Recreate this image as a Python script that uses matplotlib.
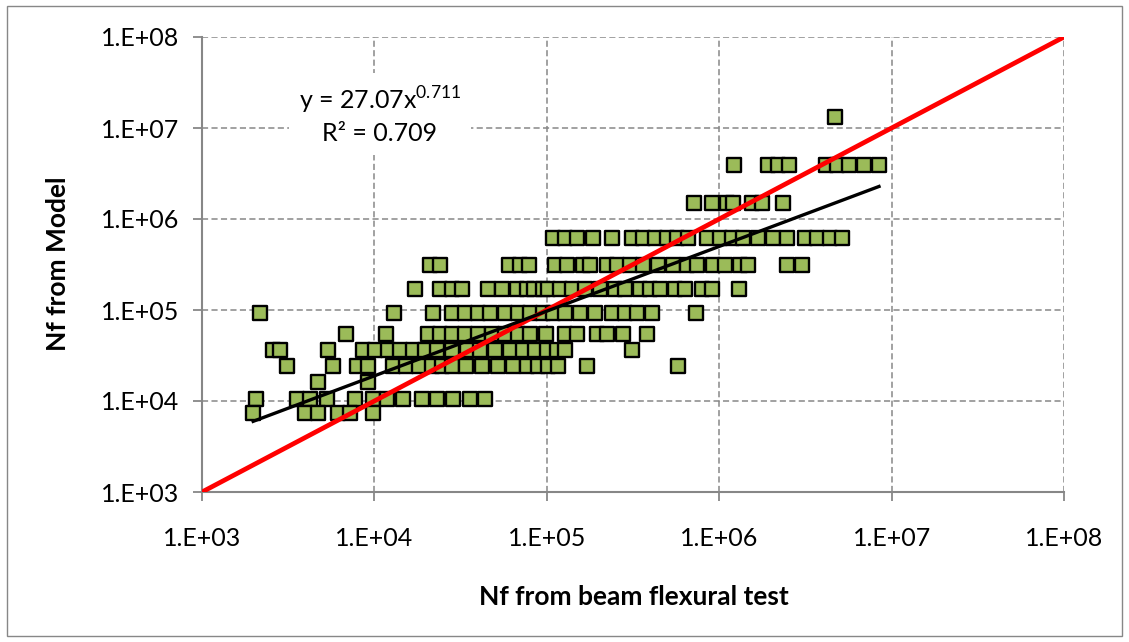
import numpy as np
import matplotlib
matplotlib.use("Agg")
import matplotlib.pyplot as plt
from matplotlib.ticker import FixedLocator, FixedFormatter, NullLocator
from matplotlib.patches import Rectangle

plt.rcParams['font.family'] = ['Lato', 'DejaVu Sans']

# Model-predicted fatigue life levels (y) and the beam-test lives (x) at each level
level_1_3e7 = 1.33e7
x_1_3e7 = [4.7e6]

level_3_9e6 = 3.9e6
x_3_9e6 = [1.22e6, 1.92e6, 2.19e6, 2.54e6, 4.16e6, 4.82e6, 5.66e6, 6.92e6, 8.45e6]

level_1_5e6 = 1.5e6
x_1_5e6 = [7.14e5, 9.08e5, 1.11e6, 1.20e6, 1.55e6, 1.77e6, 2.34e6]

level_6_2e5 = 6.2e5
x_6_2e5 = [1.09e5, 1.27e5, 1.50e5, 1.85e5, 2.39e5, 3.12e5, 3.62e5, 4.24e5, 4.98e5,
           5.69e5, 6.59e5, 8.49e5, 1.01e6, 1.19e6, 1.37e6, 1.68e6, 2.05e6, 2.47e6,
           3.14e6, 3.70e6, 4.39e6, 5.16e6]

level_3_1e5 = 3.1e5
x_3_1e5 = [2.10e4, 2.40e4, 6.04e4, 6.99e4, 7.89e4, 1.12e5, 1.31e5, 1.62e5, 1.78e5,
           2.23e5, 2.55e5, 3.04e5, 3.62e5, 4.41e5, 5.39e5, 6.50e5, 7.43e5, 9.19e5,
           1.08e6, 1.32e6, 1.47e6, 2.47e6, 3.02e6]

level_1_7e5 = 1.7e5
x_1_7e5 = [1.72e4, 2.40e4, 2.82e4, 3.22e4, 4.56e4, 5.50e4, 6.72e4, 7.67e4, 8.43e4,
           9.5e4, 1.02e5, 1.19e5, 1.40e5, 1.67e5, 2.04e5, 2.49e5, 2.84e5, 3.47e5,
           3.97e5, 4.53e5, 5.54e5, 6.33e5, 7.95e5, 9.08e5, 1.30e6]

level_9_2e4 = 9.2e4
x_9_2e4 = [2.17e3, 1.30e4, 2.19e4, 2.82e4, 3.35e4, 3.99e4, 4.68e4, 5.72e4, 6.80e4,
           7.99e4, 9.5e4, 1.09e5, 1.27e5, 1.56e5, 1.90e5, 2.39e5, 2.84e5, 3.33e5,
           4.07e5, 7.33e5]

level_5_5e4 = 5.5e4
x_5_5e4 = [6.83e3, 1.17e4, 2.04e4, 2.40e4, 2.82e4, 3.35e4, 3.99e4, 4.81e4, 5.72e4,
           6.80e4, 7.99e4, 9.9e4, 1.27e5, 1.50e5, 1.95e5, 2.23e5, 2.77e5, 3.81e5]

level_3_6e4 = 3.6e4
x_3_6e4 = [2.58e3, 2.83e3, 5.38e3, 8.58e3, 1.01e4, 1.20e4, 1.41e4, 1.67e4, 1.97e4,
           2.31e4, 2.82e4, 3.44e4, 4.10e4, 5.0e4, 6.12e4, 7.28e4, 8.55e4, 1.0e5,
           1.15e5, 1.27e5, 3.12e5]

level_2_4e4 = 2.4e4
x_2_4e4 = [3.11e3, 5.75e3, 7.93e3, 9.17e3, 1.28e4, 1.53e4, 1.81e4, 2.16e4, 2.47e4,
           2.82e4, 3.39e4, 4.21e4, 5.21e4, 6.36e4, 7.67e4, 8.89e4, 1.02e5, 1.16e5,
           1.71e5, 5.77e5]

level_1_6e4 = 1.6e4
x_1_6e4 = [4.70e3, 9.17e3]

level_1_04e4 = 1.04e4
x_1_04e4 = [2.06e3, 3.56e3, 4.23e3, 5.31e3, 7.70e3, 9.8e3, 1.18e4, 1.46e4, 1.89e4,
            2.31e4, 2.86e4, 3.59e4, 4.38e4]

level_7_3e3 = 7.3e3
x_7_3e3 = [1.98e3, 3.96e3, 4.70e3, 6.14e3, 7.22e3, 9.8e3]

# Power-law fit reported on the chart
fit_coef = 27.07
fit_exp = 0.711
fit_r2 = 0.709

tick_values = [1e3, 1e4, 1e5, 1e6, 1e7, 1e8]
tick_labels = ['1.E+03', '1.E+04', '1.E+05', '1.E+06', '1.E+07', '1.E+08']

rows = [
    (level_1_3e7, x_1_3e7), (level_3_9e6, x_3_9e6), (level_1_5e6, x_1_5e6),
    (level_6_2e5, x_6_2e5), (level_3_1e5, x_3_1e5), (level_1_7e5, x_1_7e5),
    (level_9_2e4, x_9_2e4), (level_5_5e4, x_5_5e4), (level_3_6e4, x_3_6e4),
    (level_2_4e4, x_2_4e4), (level_1_6e4, x_1_6e4), (level_1_04e4, x_1_04e4),
    (level_7_3e3, x_7_3e3),
]
x_beam = np.concatenate([np.asarray(xs, dtype=float) for _, xs in rows])
y_model = np.concatenate([np.full(len(xs), lvl) for lvl, xs in rows])

W, H = 1129, 642
fig = plt.figure(figsize=(W / 100, H / 100), dpi=100)
fig.patch.set_facecolor('white')

# outer chart border
fig.patches.append(Rectangle((7 / W, 1 - 636 / H), (1122 - 7) / W, (636 - 6) / H,
                             transform=fig.transFigure, fill=False,
                             edgecolor='#878787', linewidth=1.0))

ax = fig.add_axes([202 / W, 1 - 492 / H, (1064 - 202) / W, (492 - 37) / H])
ax.set_xscale('log')
ax.set_yscale('log')
ax.set_xlim(1e3, 1e8)
ax.set_ylim(1e3, 1e8)

grid_col = '#878787'
for v in tick_values[1:]:
    ax.axvline(v, color=grid_col, linestyle=(0, (4, 2.2)), linewidth=1.1, zorder=1)
    ax.axhline(v, color=grid_col, linestyle=(0, (4, 2.2)), linewidth=1.1, zorder=1)

ax.scatter(x_beam, y_model, marker='s', s=10.2 ** 2, facecolor='#9BBB59',
           edgecolor='black', linewidth=1.7, zorder=3, clip_on=False)

# line of equality
ax.plot(tick_values, tick_values, color='#FF0000', linewidth=3.4, zorder=4,
        solid_capstyle='butt')

# power trendline across the range of the data
xf = np.logspace(np.log10(x_beam.min()), np.log10(x_beam.max()), 200)
ax.plot(xf, fit_coef * xf ** fit_exp, color='black', linewidth=2.4, zorder=5)

for side in ['top', 'right']:
    ax.spines[side].set_visible(False)
for side in ['left', 'bottom']:
    ax.spines[side].set_color(grid_col)
    ax.spines[side].set_linewidth(1.5)
    ax.spines[side].set_zorder(2)

ax.xaxis.set_major_locator(FixedLocator(tick_values))
ax.xaxis.set_major_formatter(FixedFormatter(tick_labels))
ax.yaxis.set_major_locator(FixedLocator(tick_values))
ax.yaxis.set_major_formatter(FixedFormatter(tick_labels))
ax.xaxis.set_minor_locator(NullLocator())
ax.yaxis.set_minor_locator(NullLocator())
ax.tick_params(axis='both', direction='out', length=6.5, width=1.3, color=grid_col,
               labelsize=18, labelcolor='black')
ax.tick_params(axis='x', pad=19)
ax.tick_params(axis='y', pad=10)

ax.text((380 - 202) / 862, 1 - (115 - 37) / 455,
        'y = 27.07x$^{\\mathregular{0.711}}$\nR² = 0.709',
        transform=ax.transAxes, ha='center', va='center', fontsize=18,
        linespacing=1.3, zorder=6,
        bbox=dict(facecolor='white', edgecolor='none', pad=7))

fig.text(634 / W, 1 - 597 / H, 'Nf from beam flexural test', ha='center', va='center',
         fontsize=19, fontweight='bold')
fig.text(58 / W, 1 - 264 / H, 'Nf from Model', ha='center', va='center',
         fontsize=19, fontweight='bold', rotation=90)

fig.savefig('out.png', dpi=100, facecolor='white')
